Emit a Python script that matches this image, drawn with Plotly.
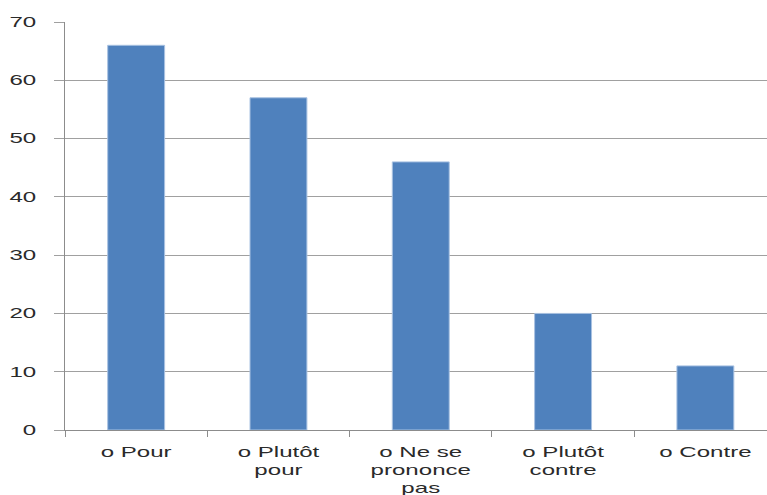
import plotly.graph_objects as go

categories = ["o Pour", "o Plutôt<br>pour", "o Ne se<br>prononce<br>pas", "o Plutôt<br>contre", "o Contre"]
values = [66, 57, 46, 20, 11]
y_ticks = [0, 10, 20, 30, 40, 50, 60, 70]

positions = list(range(len(categories)))

fig = go.Figure(
    go.Bar(
        x=positions,
        y=values,
        width=0.4,
        marker=dict(color="#4F81BD", line=dict(color="#A9C2E2", width=1)),
    )
)

font = dict(family="Liberation Sans", size=14, color="#2A2A2A")

fig.update_layout(
    width=767,
    height=495,
    margin=dict(l=65, r=0, t=22, b=65),
    paper_bgcolor="white",
    plot_bgcolor="white",
    showlegend=False,
    font=font,
)

fig.update_xaxes(
    automargin=False,
    range=[-0.5, 4.433],
    tickmode="array",
    tickvals=positions,
    ticktext=categories,
    ticks="",
    showgrid=False,
    zeroline=False,
    showline=True,
    linecolor="#8C8C8C",
    linewidth=1,
    tickfont=font,
    ticklabelstandoff=9,
    minor=dict(ticks="outside", ticklen=6, tickcolor="#8C8C8C", tick0=0.5, dtick=1, showgrid=False),
)

fig.update_yaxes(
    automargin=False,
    range=[0, 70],
    tickmode="array",
    tickvals=y_ticks,
    ticks="outside",
    ticklen=10,
    tickcolor="#A0A0A0",
    showgrid=True,
    gridcolor="#A0A0A0",
    gridwidth=1,
    zeroline=False,
    showline=True,
    linecolor="#8C8C8C",
    linewidth=1,
    tickfont=font,
    ticklabelstandoff=15,
)

# Widen the tick label glyphs horizontally around each label's anchor point.
stretch_js = """
var gd = document.getElementById('{plot_id}');
function widenLabels() {
  gd.querySelectorAll('.xtick text, .ytick text').forEach(function (t) {
    var tr = t.getAttribute('transform') || '';
    if (tr.indexOf('scale(1.72') !== -1) return;
    var x = parseFloat(t.getAttribute('x')) || 0;
    t.setAttribute('transform', tr + ' translate(' + x + ',0) scale(1.72,1) translate(' + (-x) + ',0)');
  });
}
widenLabels();
if (gd.on) { gd.on('plotly_afterplot', widenLabels); }
setTimeout(widenLabels, 50);
"""

fig.write_html("out.html", post_script=stretch_js)
